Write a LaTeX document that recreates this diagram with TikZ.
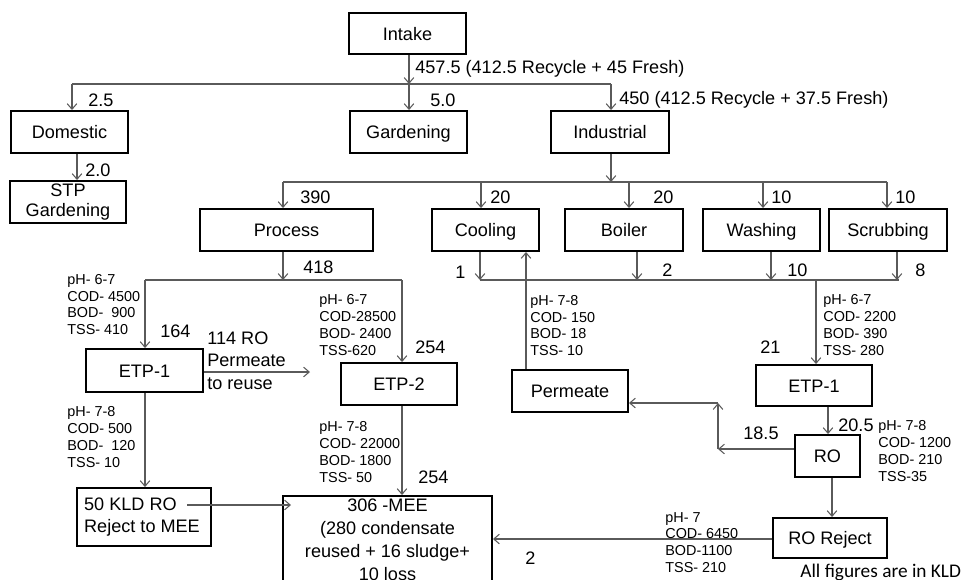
\documentclass[tikz,border=0pt]{standalone}
\usepackage{fontspec}
\setmainfont{Liberation Sans}
\newfontfamily\notefont{Carlito}
\usetikzlibrary{arrows.meta}
\definecolor{linegray}{HTML}{5A5A5A}
\newcommand\bigf{\fontsize{10.3pt}{12.4pt}\selectfont}
\newcommand\smallf{\fontsize{8.2pt}{9.6pt}\selectfont}
\begin{document}
\begin{tikzpicture}[x=0.02cm,y=-0.02cm,
  box/.style n args={2}{draw=black, line width=1.1pt, minimum width=#1*0.02cm,
    minimum height=#2*0.02cm, inner sep=0pt, font=\bigf, align=center},
  oneline/.style={text height=7.4pt, text depth=0pt},
  flow/.style={draw=linegray, line width=0.6pt},
  arr/.style={flow, -{Straight Barb[length=3.2pt,width=5.5pt]}},
  qty/.style={font=\bigf, anchor=west, inner sep=0pt},
  spec/.style={font=\smallf, anchor=west, inner sep=0pt, align=left},
]
\useasboundingbox (0,0) rectangle (961,579);
\clip (0,0) rectangle (961,579);

% ---- boxes ----
\node[box={117}{41}, oneline] (intake) at (407.5,33.5) {Intake};
\node[box={117}{42}, oneline] (domestic) at (69.5,132) {Domestic};
\node[box={117}{42}, oneline] (gardening) at (408.5,132) {Gardening};
\node[box={118}{42}, oneline] (industrial) at (610,132) {Industrial};
\node[box={116}{42}, font=\fontsize{10.3pt}{11.3pt}\selectfont] (stp) at (68,202) {STP\\Gardening};
\node[box={173}{42}, oneline] (process) at (286.5,230) {Process};
\node[box={107}{42}, oneline] (cooling) at (485.5,230) {Cooling};
\node[box={118}{42}, oneline] (boiler) at (624,230) {Boiler};
\node[box={117}{42}, oneline] (washing) at (761.5,230) {Washing};
\node[box={118}{42}, oneline] (scrubbing) at (888,230) {Scrubbing};
\node[box={117}{43}, oneline] (etpA) at (144.5,370.5) {ETP-1};
\node[box={116}{42}, oneline] (etpB) at (399,384) {ETP-2};
\node[box={116}{42}, oneline] (permeate) at (570,391) {Permeate};
\node[box={116}{41}, oneline] (etpC) at (814,385.5) {ETP-1};
\node[box={65}{42}, oneline] (ro) at (827.5,456) {RO};
\node[box={114}{40}, oneline] (roreject) at (830,538) {RO Reject};
\node[box={134}{58}, align=left, font=\fontsize{10.3pt}{12.5pt}\selectfont] (kld) at (144,517)
  {50 KLD RO\\Reject to MEE\hspace*{0.08cm}};
\node[box={209}{88}, font=\fontsize{10.3pt}{13pt}\selectfont] (mee) at (387.5,540)
  {306 -MEE\\(280 condensate\\reused + 16 sludge+\\10 loss};

% ---- intake split ----
\coordinate (s0) at (409,84);
\coordinate (d0) at (72,84);
\coordinate (i0) at (611,84);
\draw[arr] (intake.south -| s0) -- (s0);
\draw[flow] (d0) -- (i0);
\draw[arr] (d0) -- (d0 |- domestic.north);
\draw[arr] (s0) -- (s0 |- gardening.north);
\draw[arr] (i0) -- (i0 |- industrial.north);
\coordinate (ds) at (77,160);
\draw[arr] (domestic.south -| ds) -- (stp.north -| ds);

% ---- industrial split ----
\coordinate (ij) at (611,182);
\coordinate (pj) at (283,182);
\coordinate (cj) at (481,182);
\coordinate (bj) at (629,182);
\coordinate (wj) at (763,182);
\coordinate (scj) at (887,182);
\draw[arr] (industrial.south -| ij) -- (ij);
\draw[flow] (pj) -- (scj);
\draw[arr] (pj) -- (pj |- process.north);
\draw[arr] (cj) -- (cj |- cooling.north);
\draw[arr] (bj) -- (bj |- boiler.north);
\draw[arr] (wj) -- (wj |- washing.north);
\draw[arr] (scj) -- (scj |- scrubbing.north);

% ---- process effluent ----
\coordinate (po) at (283,280);
\coordinate (la) at (145,280);
\coordinate (ra) at (402,280);
\draw[arr] (process.south -| po) -- (po);
\draw[flow] (la) -- (ra);
\draw[arr] (la) -- (la |- etpA.north);
\draw[arr] (ra) -- (ra |- etpB.north);

% ---- utility effluents ----
\coordinate (c1) at (480,280);
\coordinate (b1) at (637,280);
\coordinate (w1) at (771,280);
\coordinate (sc1) at (897,280);
\coordinate (e1) at (816,280);
\draw[arr] (cooling.south -| c1) -- (c1);
\draw[arr] (boiler.south -| b1) -- (b1);
\draw[arr] (washing.south -| w1) -- (w1);
\draw[arr] (scrubbing.south -| sc1) -- (sc1);
\draw[flow] (c1) -- ([xshift=0.04cm]sc1);
\draw[arr] (e1) -- (e1 |- etpC.north);

% ---- permeate back to cooling ----
\coordinate (pc) at (526,300);
\draw[arr] (permeate.north -| pc) -- (cooling.south -| pc);

% ---- ETP-1 / RO train ----
\coordinate (xr) at (828,420);
\draw[arr] (etpC.south -| xr) -- (ro.north -| xr);
\coordinate (rj) at (718,449);
\coordinate (pk) at (718,403);
\draw[arr] (ro.west |- rj) -- (rj);
\draw[arr] (rj) -- (pk);
\draw[arr] (pk) -- (permeate.east |- pk);
\coordinate (xj) at (832,500);
\draw[arr] (ro.south -| xj) -- (roreject.north -| xj);
\coordinate (mj) at (700,539);
\draw[arr] (roreject.west |- mj) -- (mee.east |- mj);

% ---- process side ----
\coordinate (pe) at (310,372);
\draw[arr] (etpA.east |- pe) -- (pe);
\draw[arr] (etpA.south -| la) -- (kld.north -| la);
\coordinate (kr) at (187,505);
\coordinate (km) at (291,505);
\draw[arr] (kr) -- (km);
\draw[arr] (etpB.south -| ra) -- (mee.north -| ra);

% ---- flow quantities ----
\node[qty] (q1) at (415,69) {457.5 (412.5 Recycle + 45 Fresh)};
\node[qty] (q2) at (88,100) {2.5};
\node[qty] (q3) at (430,100) {5.0};
\node[qty] (q4) at (619,100) {450 (412.5 Recycle + 37.5 Fresh)};
\node[qty] (q5) at (85,170) {2.0};
\node[qty] (q6) at (300,197) {390};
\node[qty] (q7) at (490,197) {20};
\node[qty] (q8) at (653,197) {20};
\node[qty] (q9) at (771,197) {10};
\node[qty] (q10) at (895,197) {10};
\node[qty] (q11) at (303,267) {418};
\node[qty] (q12) at (455,272) {1};
\node[qty] (q13) at (662,270) {2};
\node[qty] (q14) at (787,270) {10};
\node[qty] (q15) at (915,270) {8};
\node[qty] (q16) at (160,331) {164};
\node[qty] (q17) at (415,347) {254};
\node[qty] (q18) at (760,347) {21};
\node[qty] (q19) at (838,425) {20.5};
\node[qty] (q20) at (743,433) {18.5};
\node[qty] (q21) at (418,477) {254};
\node[qty] (q22) at (525,558) {2};
\node[qty, align=left, font=\fontsize{10.3pt}{12.75pt}\selectfont] (reuse) at (207,360.5)
  {114 RO\\Permeate\\to reuse};

% ---- water quality notes ----
\node[spec] (w1n) at (67,304.5) {pH- 6-7\\COD- 4500\\BOD-\ \ 900\\TSS- 410};
\node[spec] (w2n) at (319,325) {pH- 6-7\\COD-28500\\BOD- 2400\\TSS-620};
\node[spec] (w3n) at (530,325.5) {pH- 7-8\\COD- 150\\BOD- 18\\TSS- 10};
\node[spec] (w4n) at (823,325) {pH- 6-7\\COD- 2200\\BOD- 390\\TSS- 280};
\node[spec] (w5n) at (67,437) {pH- 7-8\\COD- 500\\BOD-\ \ 120\\TSS- 10};
\node[spec] (w6n) at (319,452) {pH- 7-8\\COD- 22000\\BOD- 1800\\TSS- 50};
\node[spec] (w7n) at (878,451) {pH- 7-8\\COD- 1200\\BOD- 210\\TSS-35};
\node[spec] (w8n) at (665,542.5) {pH- 7\\COD- 6450\\BOD-1100\\TSS- 210};

\node[anchor=west, inner sep=0pt, font=\notefont\fontsize{11pt}{13pt}\selectfont] (unit) at (800,572)
  {All figures are in KLD};
\end{tikzpicture}
\end{document}
